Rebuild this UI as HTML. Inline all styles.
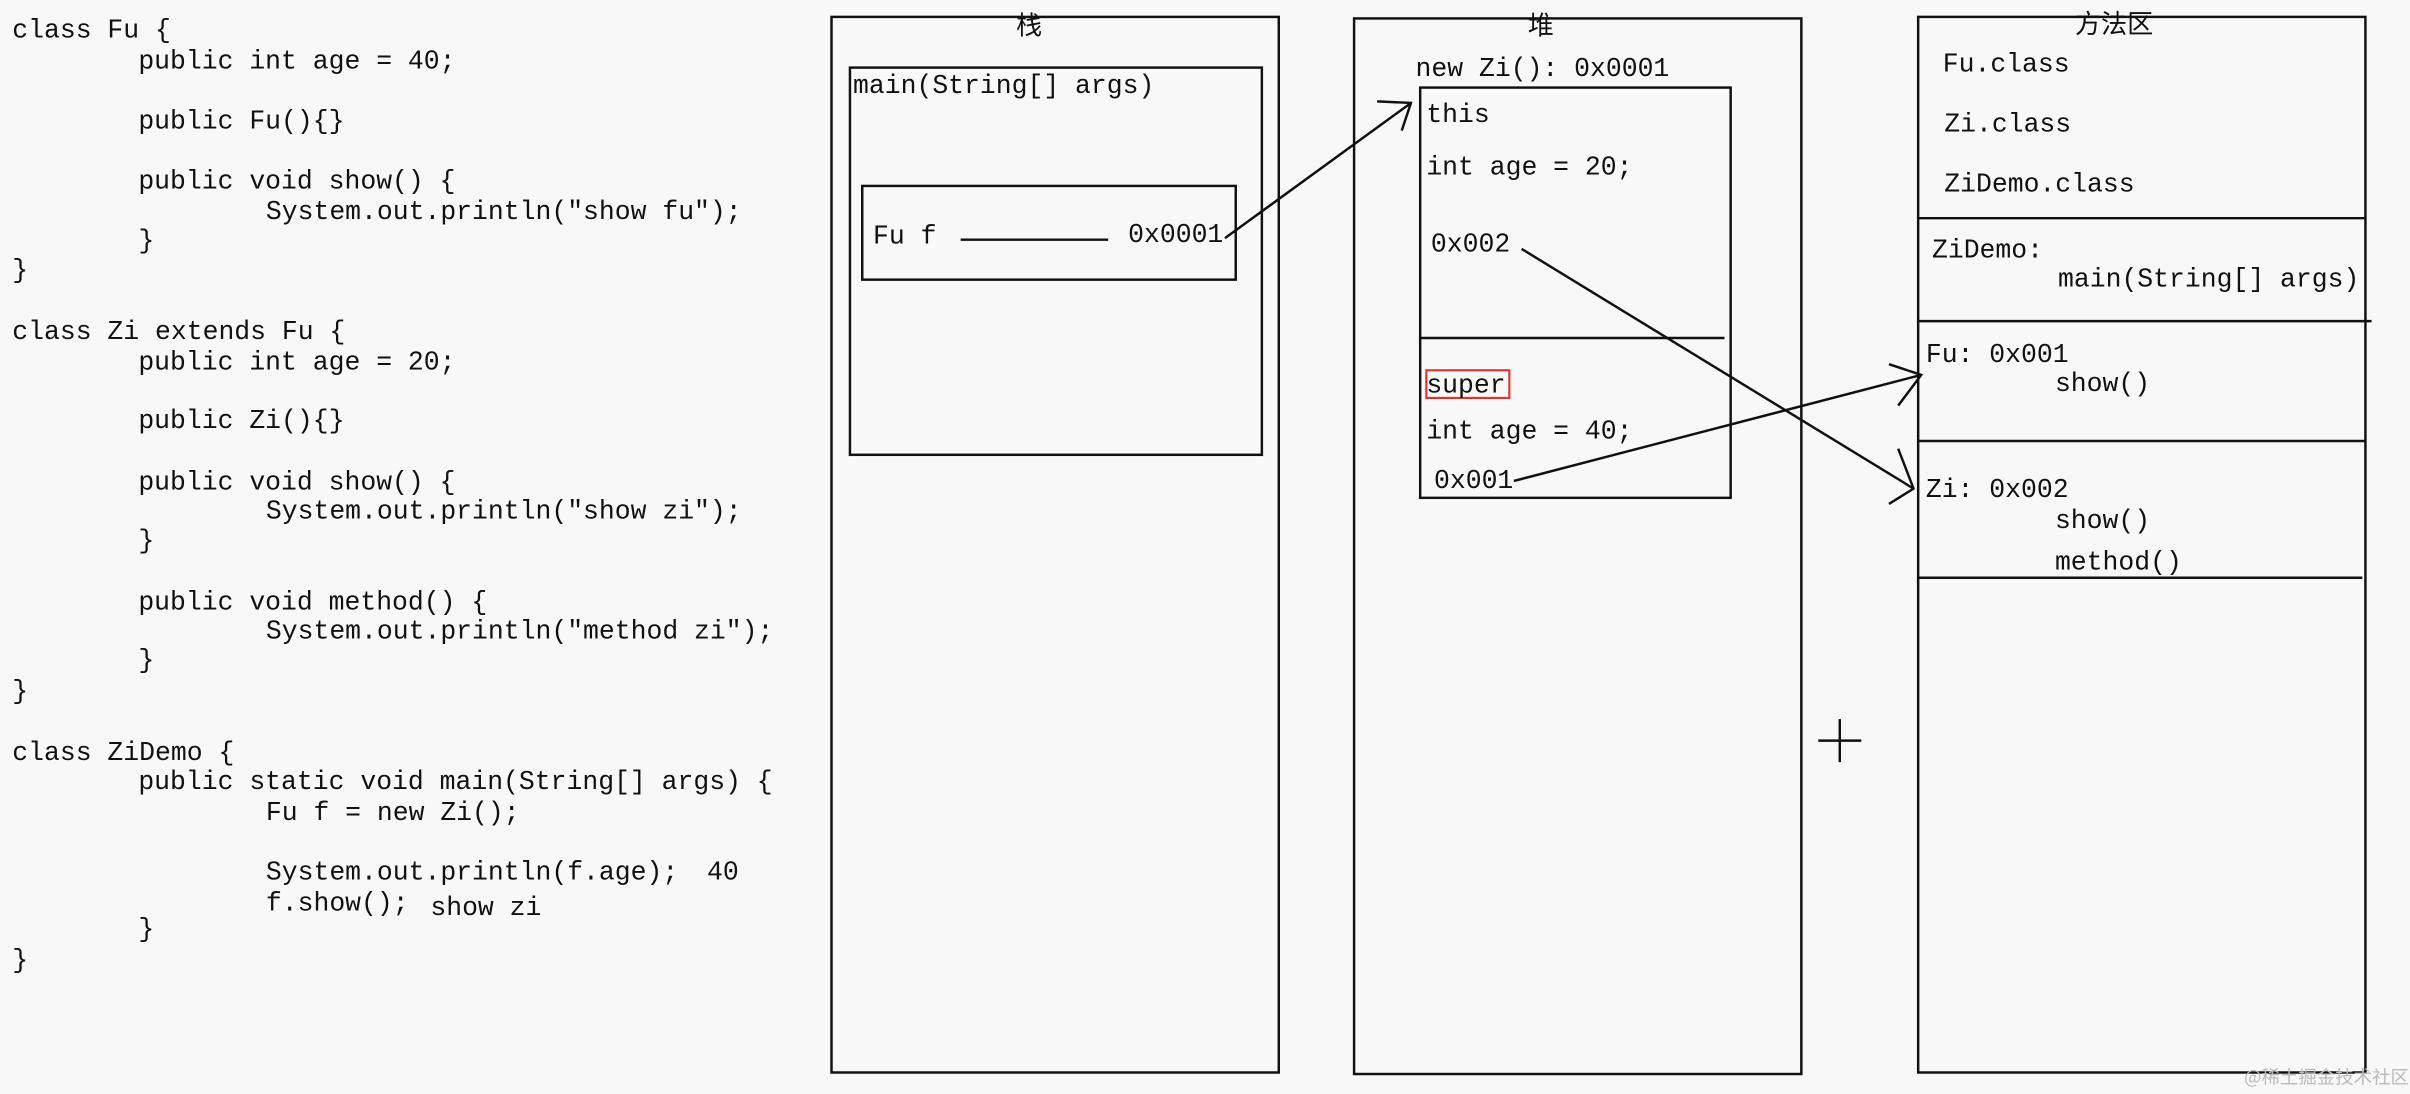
<!DOCTYPE html>
<html><head><meta charset="utf-8"><style>
html,body{margin:0;padding:0;background:#f8f8f8;}
svg{display:block;}
text{font-family:"Liberation Mono","Noto Sans CJK SC",monospace;font-size:17.2px;fill:#111;dominant-baseline:middle;}
.t{font-family:"Noto Sans CJK SC",sans-serif;font-size:17px;}
line,rect,path{stroke:#111;stroke-width:1.6;fill:none;}
</style></head><body>
<svg width="2410" height="1094" viewBox="0 0 1568 712" preserveAspectRatio="none">
<rect x="0" y="0" width="1568" height="712" style="fill:#f8f8f8;stroke:none"/>
<g>
<text x="8" y="20">class Fu {</text>
<text x="90" y="40">public int age = 40;</text>
<text x="90" y="79">public Fu(){}</text>
<text x="90" y="118">public void show() {</text>
<text x="173" y="138">System.out.println("show fu");</text>
<text x="90" y="157">}</text>
<text x="8" y="176">}</text>
<text x="8" y="216">class Zi extends Fu {</text>
<text x="90" y="236">public int age = 20;</text>
<text x="90" y="274">public Zi(){}</text>
<text x="90" y="314">public void show() {</text>
<text x="173" y="333">System.out.println("show zi");</text>
<text x="90" y="352">}</text>
<text x="90" y="392">public void method() {</text>
<text x="173" y="411">System.out.println("method zi");</text>
<text x="90" y="430">}</text>
<text x="8" y="450">}</text>
<text x="8" y="490">class ZiDemo {</text>
<text x="90" y="509">public static void main(String[] args) {</text>
<text x="173" y="529">Fu f = new Zi();</text>
<text x="173" y="568">System.out.println(f.age);</text>
<text x="460" y="568">40</text>
<text x="173" y="588">f.show();</text>
<text x="280" y="591">show zi</text>
<text x="90" y="605">}</text>
<text x="8" y="625">}</text>
</g>
<!-- stack -->
<rect x="541" y="11" width="291" height="687"/>
<text class="t" x="661" y="18">栈</text>
<rect x="553" y="44" width="268" height="252"/>
<text x="555" y="56">main(String[] args)</text>
<rect x="561" y="121" width="243" height="61"/>
<text x="568" y="154">Fu f</text>
<line x1="625" y1="156" x2="721" y2="156"/>
<text x="734" y="153">0x0001</text>
<!-- heap -->
<rect x="881" y="12" width="291" height="687"/>
<text class="t" x="994" y="18">堆</text>
<text x="921" y="45">new Zi(): 0x0001</text>
<rect x="924" y="57" width="202" height="267"/>
<line x1="924" y1="220" x2="1122" y2="220"/>
<text x="928" y="75">this</text>
<text x="928" y="109">int age = 20;</text>
<text x="931" y="159">0x002</text>
<rect x="928" y="241" width="54" height="18" style="stroke:#d33;stroke-width:1.4"/>
<text x="928" y="251">super</text>
<text x="928" y="281">int age = 40;</text>
<text x="933" y="313">0x001</text>
<!-- method area -->
<rect x="1248" y="11" width="291" height="687"/>
<text class="t" x="1350" y="17">方法区</text>
<text x="1264" y="42">Fu.class</text>
<text x="1265" y="81">Zi.class</text>
<text x="1265" y="120">ZiDemo.class</text>
<line x1="1248" y1="142" x2="1539" y2="142"/>
<text x="1257" y="163">ZiDemo:</text>
<text x="1339" y="182">main(String[] args)</text>
<line x1="1248" y1="209" x2="1543" y2="209"/>
<text x="1253" y="231">Fu: 0x001</text>
<text x="1337" y="250">show()</text>
<line x1="1248" y1="287" x2="1539" y2="287"/>
<text x="1253" y="319">Zi: 0x002</text>
<text x="1337" y="339">show()</text>
<text x="1337" y="366">method()</text>
<line x1="1248" y1="376" x2="1537" y2="376"/>
<!-- arrows -->
<line x1="797" y1="155" x2="918" y2="67"/>
<path d="M896 66 L918 67 L912 85"/>
<line x1="990" y1="162" x2="1245" y2="318"/>
<path d="M1235 292 L1245 318 L1229 328"/>
<line x1="985" y1="313" x2="1250" y2="244"/>
<path d="M1229 237 L1250 244 L1235 264"/>
<!-- crosshair -->
<line x1="1183" y1="482" x2="1211" y2="482"/>
<line x1="1197" y1="468" x2="1197" y2="496"/>
<text x="1460" y="702" style="font-family:'Noto Sans CJK SC',sans-serif;font-size:12px;fill:#bbb">@稀土掘金技术社区</text>
</svg>
</body></html>
